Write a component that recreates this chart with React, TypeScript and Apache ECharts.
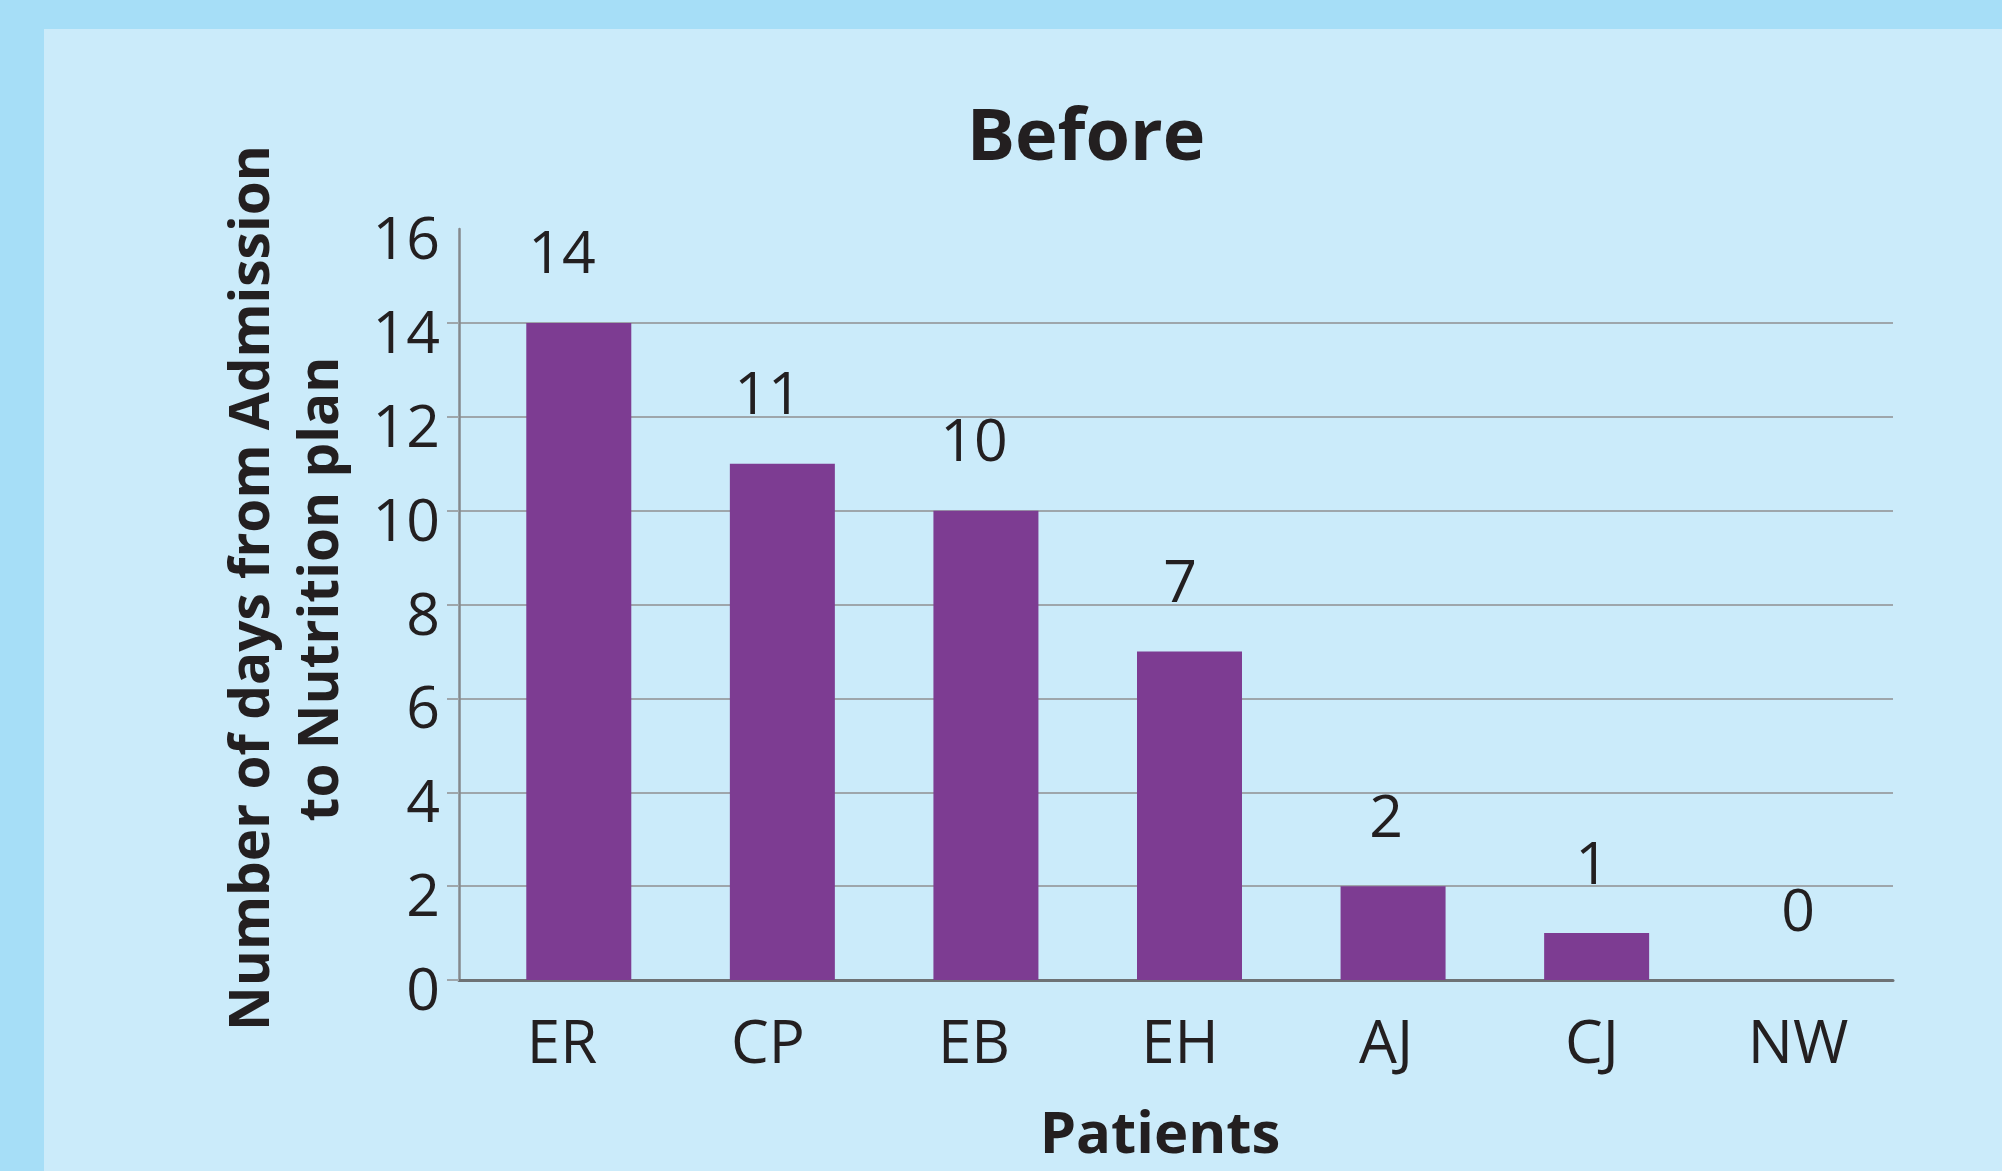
import React, { useEffect, useRef } from "react";
import * as echarts from "echarts";

const patients = ["ER", "CP", "EB", "EH", "AJ", "CJ", "NW"];
const days = [14, 11, 10, 7, 2, 1, 0];
const yMin = 0;
const yMax = 16;
const yStep = 2;
const titleText = "Before";
const xName = "Patients";
const yNameLines = ["Number of days from Admission", "to Nutrition plan"];

const FONT = "'Open Sans', 'Noto Sans', sans-serif";
const GRID_COLOR = "#9ea6ab";
const TEXT_COLOR = "#231f20";

const tickValues: number[] = [];
for (let v = yMin; v < yMax; v += yStep) tickValues.push(v);

export default function App() {
  const ref = useRef<HTMLDivElement>(null);
  useEffect(() => {
    if (!ref.current) return;
    const chart = echarts.init(ref.current, null, { renderer: "svg" });
    const plotTop = 229;
    const plotHeight = 751;
    chart.setOption({
      animation: false,
      backgroundColor: "#cbebfa",
      grid: [
        { left: 459, top: plotTop, width: 1434, height: plotHeight },
        { left: 477, top: plotTop, width: 1425, height: plotHeight },
        { left: 459, top: plotTop, width: 1442, height: plotHeight },
        { left: 459, top: plotTop + 7, width: 1434, height: plotHeight },
      ],
      xAxis: [
        {
          gridIndex: 0,
          type: "value",
          min: 0,
          max: 1,
          axisLine: { show: true, lineStyle: { color: "#6e7275", width: 3 } },
          axisTick: { show: false },
          axisLabel: { show: false },
          splitLine: { show: false },
        },
        {
          gridIndex: 1,
          type: "category",
          data: patients,
          axisLine: { show: false },
          axisTick: { show: false },
          axisLabel: { show: false },
        },
        {
          gridIndex: 2,
          type: "category",
          data: patients,
          axisLine: { show: false },
          axisTick: { show: false },
          axisLabel: {
            margin: 30,
            fontFamily: FONT,
            fontSize: 60,
            color: TEXT_COLOR,
          },
        },
        {
          gridIndex: 3,
          type: "value",
          min: 0,
          max: 1,
          show: false,
          splitLine: { show: false },
        },
      ],
      yAxis: [
        {
          gridIndex: 0,
          type: "value",
          min: yMin,
          max: yMax,
          interval: yStep,
          axisLine: { show: true, lineStyle: { color: "#85898c", width: 2.5 } },
          axisTick: {
            show: true,
            length: 12,
            customValues: tickValues,
            lineStyle: { color: GRID_COLOR, width: 2 },
          },
          axisLabel: { show: false },
          splitLine: {
            show: true,
            lineStyle: { color: GRID_COLOR, width: 2 },
          },
        },
        {
          gridIndex: 1,
          type: "value",
          min: yMin,
          max: yMax,
          show: false,
          splitLine: { show: false },
        },
        {
          gridIndex: 2,
          type: "value",
          min: yMin,
          max: yMax,
          show: false,
          splitLine: { show: false },
        },
        {
          gridIndex: 3,
          type: "value",
          min: yMin,
          max: yMax,
          interval: yStep,
          axisLine: { show: false },
          axisTick: { show: false },
          splitLine: { show: false },
          axisLabel: {
            margin: 19,
            fontFamily: FONT,
            fontSize: 59,
            color: TEXT_COLOR,
          },
        },
      ],
      graphic: [
        {
          type: "rect",
          left: 0,
          top: 0,
          shape: { width: 2002, height: 29 },
          style: { fill: "#a6def7" },
          z: -10,
        },
        {
          type: "rect",
          left: 0,
          top: 0,
          shape: { width: 44, height: 1171 },
          style: { fill: "#a6def7" },
          z: -10,
        },
        {
          type: "text",
          x: 1086,
          y: 132,
          style: {
            text: titleText,
            fontFamily: FONT,
            fontWeight: "bold",
            fontSize: 72,
            fill: TEXT_COLOR,
            textAlign: "center",
            textVerticalAlign: "middle",
          },
        },
        {
          type: "text",
          x: 1160,
          y: 1130,
          style: {
            text: xName,
            fontFamily: FONT,
            fontWeight: "bold",
            fontSize: 58,
            fill: TEXT_COLOR,
            textAlign: "center",
            textVerticalAlign: "middle",
          },
        },
        {
          type: "text",
          x: 247,
          y: 588,
          rotation: Math.PI / 2,
          style: {
            text: yNameLines[0],
            fontFamily: FONT,
            fontWeight: "bold",
            fontSize: 55,
            fill: TEXT_COLOR,
            textAlign: "center",
            textVerticalAlign: "middle",
          },
        },
        {
          type: "text",
          x: 316,
          y: 589,
          rotation: Math.PI / 2,
          style: {
            text: yNameLines[1],
            fontFamily: FONT,
            fontWeight: "bold",
            fontSize: 55,
            fill: TEXT_COLOR,
            textAlign: "center",
            textVerticalAlign: "middle",
          },
        },
      ],
      series: [
        {
          type: "bar",
          xAxisIndex: 1,
          yAxisIndex: 1,
          data: days,
          barWidth: 105,
          itemStyle: { color: "#7d3c92" },
          label: { show: false },
          z: 3,
        },
        {
          type: "bar",
          xAxisIndex: 2,
          yAxisIndex: 2,
          data: days,
          barWidth: 105,
          itemStyle: { color: "rgba(0,0,0,0)" },
          label: {
            show: true,
            position: "top",
            distance: 43,
            fontFamily: FONT,
            fontSize: 59,
            color: TEXT_COLOR,
          },
          z: 4,
        },
      ],
    });
    return () => chart.dispose();
  }, []);
  return (
    <div
      ref={ref}
      style={{ position: "absolute", left: 0, top: 0, width: 2002, height: 1171 }}
    />
  );
}
